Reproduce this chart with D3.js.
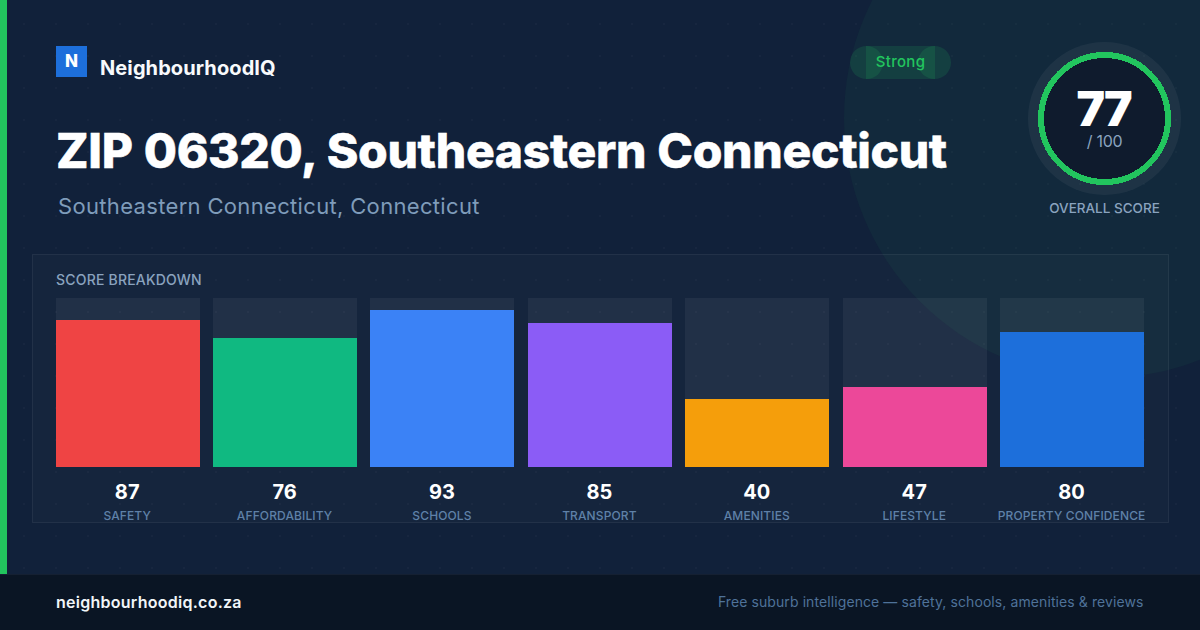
<!DOCTYPE html>
<html>
<head>
<meta charset="utf-8">
<script src="https://cdn.jsdelivr.net/npm/d3@7"></script>
<style>
html, body { margin: 0; padding: 0; background: #12213a; }
svg { display: block; font-family: Inter, sans-serif; }
</style>
</head>
<body>
<script>
// chart values
const categories = ['SAFETY', 'AFFORDABILITY', 'SCHOOLS', 'TRANSPORT', 'AMENITIES', 'LIFESTYLE', 'PROPERTY CONFIDENCE'];
const scores = [87, 76, 93, 85, 40, 47, 80];
const barColors = ['#ef4444', '#10b981', '#3b82f6', '#8b5cf6', '#f59e0b', '#ec4899', '#1d6fdb'];
const overallScore = 77;
const overallMax = 100;

const width = 1200;
const height = 630;

const svg = d3.select('body')
    .append('svg')
    .attr('width', width)
    .attr('height', height);

const defs = svg.append('defs');

// faint dot grid behind everything
const dots = defs.append('pattern')
    .attr('id', 'dots')
    .attr('patternUnits', 'userSpaceOnUse')
    .attr('x', 8)
    .attr('y', 8)
    .attr('width', 32)
    .attr('height', 32);
dots.append('circle')
    .attr('cx', 16)
    .attr('cy', 16)
    .attr('r', 1)
    .attr('fill', 'rgba(255,255,255,0.03)');

// background
svg.append('rect').attr('width', width).attr('height', height).attr('fill', '#11213a');
svg.append('rect').attr('width', width).attr('height', height).attr('fill', 'url(#dots)');
svg.append('circle')
    .attr('cx', 1104)
    .attr('cy', 118)
    .attr('r', 260)
    .attr('fill', 'rgba(34,197,94,0.05)');

// left accent
svg.append('rect').attr('width', 7).attr('height', 574).attr('fill', '#22c55e');

// footer
svg.append('rect').attr('y', 574).attr('width', width).attr('height', 56).attr('fill', '#0a1524');
svg.append('rect').attr('y', 574).attr('width', width).attr('height', 1).attr('fill', '#152032');
svg.append('text')
    .attr('x', 56)
    .attr('y', 608)
    .attr('font-size', 16)
    .attr('font-weight', 600)
    .attr('letter-spacing', 0.26)
    .attr('fill', '#f1f5f9')
    .text('neighbourhoodiq.co.za');
svg.append('text')
    .attr('x', 1143.5)
    .attr('y', 607)
    .attr('text-anchor', 'end')
    .attr('font-size', 14)
    .attr('letter-spacing', 0.09)
    .attr('fill', '#4f7299')
    .text('Free suburb intelligence \u2014 safety, schools, amenities & reviews');

// brand
svg.append('rect')
    .attr('x', 56)
    .attr('y', 46)
    .attr('width', 31)
    .attr('height', 31)
    .attr('fill', '#1d6fdb');
svg.append('text')
    .attr('x', 71.5)
    .attr('y', 67)
    .attr('text-anchor', 'middle')
    .attr('font-size', 17)
    .attr('font-weight', 800)
    .attr('fill', '#fff')
    .text('N');
svg.append('text')
    .attr('x', 100)
    .attr('y', 75)
    .attr('font-size', 20)
    .attr('font-weight', 700)
    .attr('letter-spacing', 0.1)
    .attr('fill', '#f8fafc')
    .text('NeighbourhoodIQ');

// title
svg.append('text')
    .attr('x', 56)
    .attr('y', 168)
    .attr('font-size', 48)
    .attr('font-weight', 800)
    .attr('letter-spacing', -0.33)
    .attr('word-spacing', 1)
    .attr('fill', '#fff')
    .attr('stroke', '#fff')
    .attr('stroke-width', 0.5)
    .text('ZIP 06320, Southeastern Connecticut');
svg.append('text')
    .attr('x', 58)
    .attr('y', 214)
    .attr('font-size', 22)
    .attr('letter-spacing', 0.33)
    .attr('fill', '#7f9cba')
    .text('Southeastern Connecticut, Connecticut');

// rating pill, the end caps overlap the middle like in the original
const pill = svg.append('g').attr('fill', 'rgba(34,197,94,0.15)');
pill.append('rect').attr('x', 866).attr('y', 46).attr('width', 69).attr('height', 33);
pill.append('circle').attr('cx', 866.5).attr('cy', 62.5).attr('r', 16.5);
pill.append('circle').attr('cx', 934.5).attr('cy', 62.5).attr('r', 16.5);
svg.append('text')
    .attr('x', 900.5)
    .attr('y', 67)
    .attr('text-anchor', 'middle')
    .attr('font-size', 15)
    .attr('font-weight', 500)
    .attr('letter-spacing', 0.3)
    .attr('fill', '#22c55e')
    .text('Strong');

// overall score gauge
const gauge = svg.append('g').attr('transform', 'translate(1104.5,118.5)');
gauge.append('circle').attr('r', 76.5).attr('fill', 'rgba(255,255,255,0.05)');
gauge.append('circle')
    .attr('r', 63.5)
    .attr('fill', '#0f1b2d')
    .attr('stroke', '#22c55e')
    .attr('stroke-width', 6)
    .attr('shape-rendering', 'crispEdges');
gauge.append('text')
    .attr('x', -1)
    .attr('y', 7)
    .attr('text-anchor', 'middle')
    .attr('font-size', 48)
    .attr('font-weight', 900)
    .attr('letter-spacing', -2)
    .attr('fill', '#fff')
    .text(overallScore);
gauge.append('text')
    .attr('y', 28.5)
    .attr('text-anchor', 'middle')
    .attr('font-size', 16)
    .attr('letter-spacing', -0.3)
    .attr('fill', '#8aa3bf')
    .text('/ ' + overallMax);
svg.append('text')
    .attr('x', 1104.5)
    .attr('y', 213)
    .attr('text-anchor', 'middle')
    .attr('font-size', 13.5)
    .attr('font-weight', 500)
    .attr('fill', '#8aa3bf')
    .text('OVERALL SCORE');

// breakdown panel
svg.append('rect')
    .attr('x', 32.5)
    .attr('y', 254.5)
    .attr('width', 1136)
    .attr('height', 268)
    .attr('fill', 'rgba(255,255,255,0.02)')
    .attr('stroke', 'rgba(255,255,255,0.07)');
svg.append('text')
    .attr('x', 56)
    .attr('y', 285)
    .attr('font-size', 14)
    .attr('font-weight', 500)
    .attr('letter-spacing', 0.2)
    .attr('fill', '#8aa3bf')
    .text('SCORE BREAKDOWN');

const x = d3.scaleBand()
    .domain(categories)
    .range([55.6, 1144])
    .paddingInner(0.08513);

const y = d3.scaleLinear()
    .domain([0, 100])
    .range([466.8, 297.8]);

const color = d3.scaleOrdinal().domain(categories).range(barColors);

const columns = svg.selectAll('.column')
    .data(categories.map((name, i) => ({ name, score: scores[i] })))
    .enter()
    .append('g')
    .classed('column', true);

columns.append('rect')
    .attr('x', d => x(d.name))
    .attr('y', y(100))
    .attr('width', x.bandwidth())
    .attr('height', y(0) - y(100))
    .attr('shape-rendering', 'crispEdges')
    .attr('fill', 'rgba(255,255,255,0.055)');

columns.append('rect')
    .attr('x', d => x(d.name))
    .attr('y', d => y(d.score))
    .attr('width', x.bandwidth())
    .attr('height', d => y(0) - y(d.score))
    .attr('shape-rendering', 'crispEdges')
    .attr('fill', d => color(d.name));

columns.append('text')
    .attr('x', d => x(d.name) + x.bandwidth() / 2 - 0.4)
    .attr('y', 499)
    .attr('text-anchor', 'middle')
    .attr('font-size', 20)
    .attr('font-weight', 700)
    .attr('fill', '#fff')
    .text(d => d.score);

columns.append('text')
    .attr('x', d => x(d.name) + x.bandwidth() / 2 - 0.4)
    .attr('y', 520)
    .attr('text-anchor', 'middle')
    .attr('font-size', 12)
    .attr('font-weight', 500)
    .attr('letter-spacing', 0.12)
    .attr('fill', '#5f81a8')
    .text(d => d.name);
</script>
</body>
</html>
